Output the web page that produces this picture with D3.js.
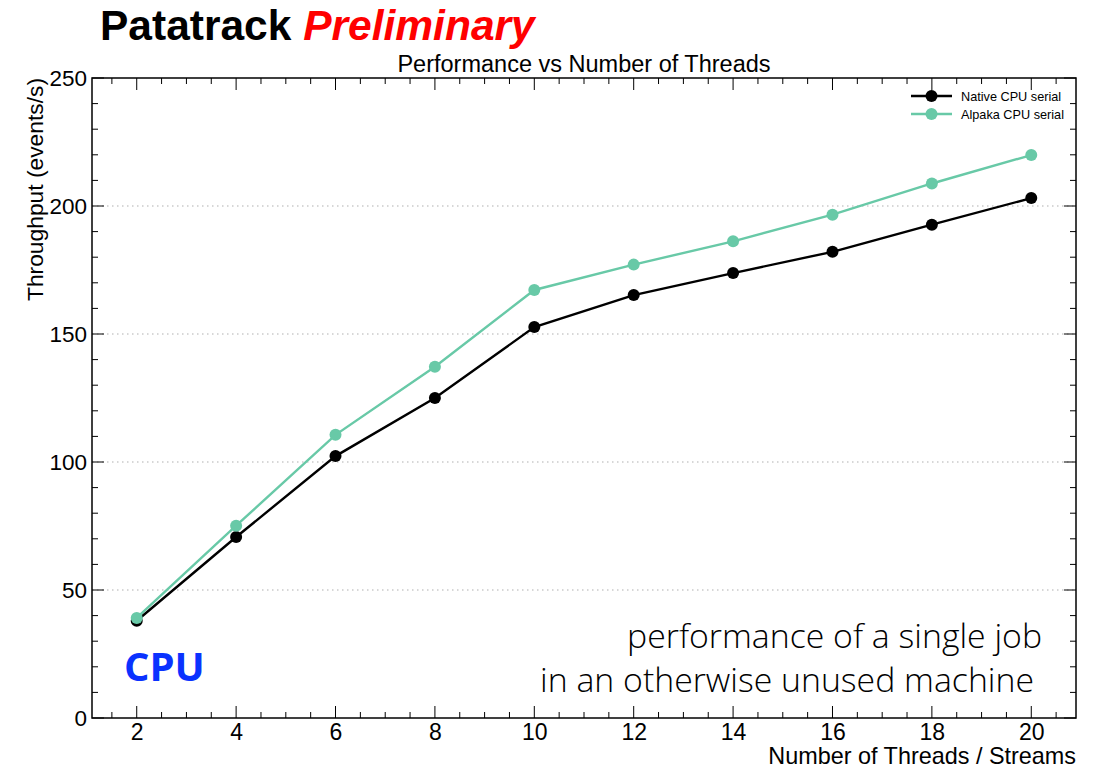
<!DOCTYPE html>
<html>
<head>
<meta charset="utf-8">
<script src="https://cdn.jsdelivr.net/npm/d3@7"></script>
<style>
  html, body { margin: 0; padding: 0; background: #fff; }
  svg { display: block; }
</style>
</head>
<body>
<svg id="chart" width="1096" height="769"></svg>
<script>
// Thread / stream counts on the x axis
const threads = [2, 4, 6, 8, 10, 12, 14, 16, 18, 20];
// Throughput in events per second
const nativeSerial = [38, 70.7, 102.3, 125, 152.7, 165.2, 173.8, 182.1, 192.7, 203.1];
const alpakaSerial = [39.1, 75.1, 110.6, 137.2, 167.2, 177.1, 186.2, 196.6, 208.8, 219.9];
const xTickValues = [2, 4, 6, 8, 10, 12, 14, 16, 18, 20];
const yTickValues = [0, 50, 100, 150, 200, 250];

const series = [
  { name: "Native CPU serial", values: nativeSerial, color: "#000000" },
  { name: "Alpaka CPU serial", values: alpakaSerial, color: "#68c9a7" }
];

const svg = d3.select("#chart");
const frame = { left: 92, top: 78, right: 1076, bottom: 718 };

const x = d3.scaleLinear().domain([1.1, 20.9]).range([frame.left, frame.right]);
const y = d3.scaleLinear().domain([0, 250]).range([frame.bottom, frame.top]);

const font = "Liberation Sans, Arial, Helvetica, sans-serif";

// Headline
const head = svg.append("text")
  .attr("x", 100).attr("y", 40)
  .attr("font-family", font).attr("font-size", 42.5).attr("font-weight", "bold");
head.append("tspan").attr("fill", "#000").text("Patatrack ");
head.append("tspan").attr("fill", "#ff0000").attr("font-style", "italic").text("Preliminary");

// Plot title
svg.append("text")
  .attr("x", 584).attr("y", 72)
  .attr("text-anchor", "middle")
  .attr("font-family", font).attr("font-size", 23.5)
  .text("Performance vs Number of Threads");

// Dotted horizontal grid
svg.append("g")
  .selectAll("line")
  .data(yTickValues.filter(v => v > 0 && v < 250))
  .join("line")
  .attr("x1", frame.left).attr("x2", frame.right)
  .attr("y1", d => y(d)).attr("y2", d => y(d))
  .attr("stroke", "#b0b0b0").attr("stroke-width", 1.2)
  .attr("stroke-dasharray", "1.5,3.5");

// Axes with inward ticks on all four sides
const xMinor = d3.range(1.5, 20.9, 0.5).filter(v => !xTickValues.includes(v));
const yMinor = d3.range(10, 250, 10).filter(v => !yTickValues.includes(v));

function drawTicks(g, scale, values, len, orient) {
  g.selectAll(null).data(values).join("line")
    .attr("stroke", "#000").attr("stroke-width", 1)
    .each(function (d) {
      const s = d3.select(this);
      const p = scale(d);
      if (orient === "bottom") s.attr("x1", p).attr("x2", p).attr("y1", frame.bottom).attr("y2", frame.bottom - len);
      if (orient === "top") s.attr("x1", p).attr("x2", p).attr("y1", frame.top).attr("y2", frame.top + len);
      if (orient === "left") s.attr("y1", p).attr("y2", p).attr("x1", frame.left).attr("x2", frame.left + len);
      if (orient === "right") s.attr("y1", p).attr("y2", p).attr("x1", frame.right).attr("x2", frame.right - len);
    });
}

const ticks = svg.append("g");
drawTicks(ticks, x, xTickValues, 12, "bottom");
drawTicks(ticks, x, xMinor, 6, "bottom");
drawTicks(ticks, x, xTickValues, 12, "top");
drawTicks(ticks, x, xMinor, 6, "top");
drawTicks(ticks, y, yTickValues, 12, "left");
drawTicks(ticks, y, yMinor, 6, "left");
drawTicks(ticks, y, yTickValues, 12, "right");
drawTicks(ticks, y, yMinor, 6, "right");

// Frame
svg.append("rect")
  .attr("x", frame.left).attr("y", frame.top)
  .attr("width", frame.right - frame.left).attr("height", frame.bottom - frame.top)
  .attr("fill", "none").attr("stroke", "#000").attr("stroke-width", 1.5);

// Tick labels via d3 axes (tick lines hidden, labels only)
const xAxis = d3.axisBottom(x).tickValues(xTickValues).tickSize(0).tickPadding(6).tickFormat(d3.format("d"));
svg.append("g")
  .attr("transform", `translate(0,${frame.bottom})`)
  .call(xAxis)
  .call(g => g.select(".domain").remove())
  .call(g => g.selectAll("text").attr("font-family", font).attr("font-size", 23).attr("fill", "#000"));

const yAxis = d3.axisLeft(y).tickValues(yTickValues).tickSize(0).tickPadding(5).tickFormat(d3.format("d"));
svg.append("g")
  .attr("transform", `translate(${frame.left},0)`)
  .call(yAxis)
  .call(g => g.select(".domain").remove())
  .call(g => g.selectAll("text").attr("font-family", font).attr("font-size", 22.5).attr("fill", "#000"));

// Axis titles
svg.append("text")
  .attr("x", frame.right).attr("y", 764)
  .attr("text-anchor", "end")
  .attr("font-family", font).attr("font-size", 23.4)
  .text("Number of Threads / Streams");

svg.append("text")
  .attr("transform", `translate(43,${frame.top}) rotate(-90)`)
  .attr("text-anchor", "end")
  .attr("font-family", font).attr("font-size", 22.8)
  .text("Throughput (events/s)");

// Series lines and markers
const line = d3.line().x((d, i) => x(threads[i])).y(d => y(d));
series.forEach(s => {
  const g = svg.append("g");
  g.append("path")
    .attr("d", line(s.values))
    .attr("fill", "none").attr("stroke", s.color).attr("stroke-width", 2.4);
  g.selectAll("circle").data(s.values).join("circle")
    .attr("cx", (d, i) => x(threads[i])).attr("cy", d => y(d))
    .attr("r", 6).attr("fill", s.color);
});

// Legend
const legend = svg.append("g");
series.forEach((s, i) => {
  const ly = 96 + i * 18;
  legend.append("line")
    .attr("x1", 911).attr("x2", 952).attr("y1", ly).attr("y2", ly)
    .attr("stroke", s.color).attr("stroke-width", 2.4);
  legend.append("circle").attr("cx", 931.5).attr("cy", ly).attr("r", 6).attr("fill", s.color);
  legend.append("text")
    .attr("x", 961).attr("y", ly + 4.5)
    .attr("font-family", font).attr("font-size", 12.7)
    .text(s.name);
});

// Annotations
svg.append("text")
  .attr("x", 124).attr("y", 681)
  .attr("font-family", "Open Sans, sans-serif").attr("font-weight", "bold")
  .attr("font-size", 40).attr("fill", "#0a32ff")
  .text("CPU");

const note = svg.append("text")
  .attr("text-anchor", "end")
  .attr("font-family", "Open Sans, sans-serif").attr("font-weight", 300)
  .attr("font-size", 33.8).attr("fill", "#000");
note.append("tspan").attr("x", 1042).attr("y", 648).text("performance of a single job");
note.append("tspan").attr("x", 1034).attr("y", 692).text("in an otherwise unused machine");
</script>
</body>
</html>
